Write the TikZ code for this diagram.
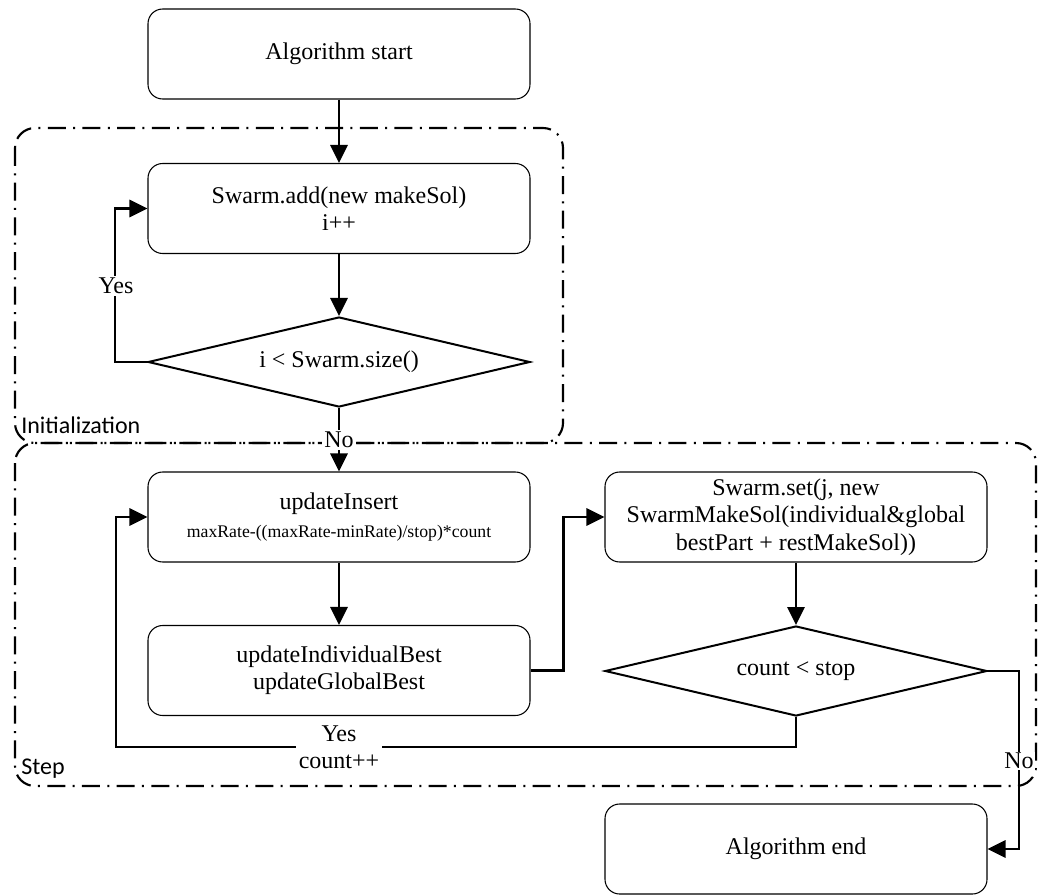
\documentclass[tikz,border=0pt]{standalone}
\usepackage{fontspec}
\setmainfont{Liberation Serif}
\newfontfamily\regionfont{Carlito}
\usetikzlibrary{shapes.geometric,arrows.meta}

\begin{document}
\begin{tikzpicture}[x=0.75pt,y=-0.75pt,
  font=\fontsize{18}{20.5}\selectfont,
  box/.style={draw,line width=0.8pt,rounded corners=11pt,fill=white,
    minimum width=286.5pt,minimum height=67.5pt,inner sep=0pt,align=center},
  decision/.style={draw,diamond,line width=1.5pt,fill=white,shape aspect=4.24,
    minimum width=286.5pt,minimum height=67.5pt,inner sep=0pt,align=center},
  flow/.style={line width=1.6pt,-{Triangle[length=13.5pt,width=13pt]}},
  region/.style={line width=1.6pt,rounded corners=15pt,
    dash pattern=on 13.5pt off 5.5pt on 1.5pt off 5.5pt},
  lbl/.style={fill=white,inner sep=1.5pt,align=center},
  regionlbl/.style={font=\regionfont\fontsize{18}{20}\selectfont,anchor=west,inner sep=0pt}]

\useasboundingbox (0,0) rectangle (1039,895);

% phase frames
\draw[region] (15,128) rectangle (563,443);
\draw[region] (15,443) rectangle (1036,786);
\node[regionlbl] (initlbl) at (21,425) {Initialization};
\node[regionlbl] (steplbl) at (21,769) {Step};

% process boxes and decisions
\node[box] (start) at (339,54) {Algorithm start};
\node[box] (add) at (339,208.5) {Swarm.add(new makeSol)\\i++};
\node[decision] (d1) at (339,362) {i < Swarm.size()};
\node[box] (ins) at (339,517) {updateInsert\\[1pt]{\fontsize{13.3}{15}\selectfont maxRate-((maxRate-minRate)/stop)*count}};
\node[box] (best) at (339,670.5) {updateIndividualBest\\updateGlobalBest};
\node[box] (set) at (796,517) {Swarm.set(j, new\\SwarmMakeSol(individual\&global\\bestPart + restMakeSol))};
\node[decision] (d2) at (796,671) {count < stop};
\node[box] (end) at (796,849) {Algorithm end};

% bends of the loop connectors
\coordinate (k1) at (116,747);
\coordinate (k2) at (1019,671);

% connectors
\draw[flow] (start) -- (add);
\draw[flow] (add) -- (d1);
\draw[flow] (d1.west) -- ++(-32,0) |- (add.west);
\draw[flow] (d1.south) -- (ins.north);
\draw[flow] (ins) -- (best);
\draw[flow] (best.east) -- ++(33,0) |- (set.west);
\draw[flow] (set) -- (d2);
\draw[flow] (d2.south) |- (k1) |- (ins.west);
\draw[flow] (d2.east) -- (k2) |- (end.east);

% branch labels
\node[lbl] (yes1) at (116,286) {Yes};
\node[lbl] (no1) at (339,440) {No};
\node[lbl,inner sep=2pt] (yes2) at (339,747) {Yes\\count++};
\node[lbl,inner sep=1pt] (no2) at (1019,761) {No};
\end{tikzpicture}
\end{document}
